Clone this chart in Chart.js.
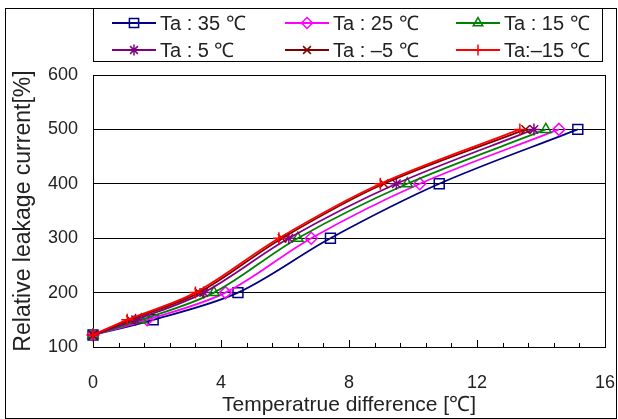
<!DOCTYPE html>
<html><head><meta charset="utf-8">
<script src="https://cdn.jsdelivr.net/npm/chart.js@4/dist/chart.umd.min.js"></script>
<style>html,body{margin:0;padding:0;background:#fff}canvas{display:block}</style>
</head><body>
<canvas id="c" width="618" height="419"></canvas>
<script>
// ---- data ----
const seriesLabels = ['Ta : 35 ℃', 'Ta : 25 ℃', 'Ta : 15 ℃', 'Ta : 5 ℃', 'Ta : –5 ℃', 'Ta:–15 ℃'];
const leakageLevels = [122, 150, 200, 300, 400, 500];
const tdTa35  = [0, 1.88, 4.53, 7.42, 10.82, 15.15];
const tdTa25  = [0, 1.69, 4.14, 6.82, 10.21, 14.56];
const tdTa15  = [0, 1.51, 3.78, 6.40, 9.82, 14.15];
const tdTa5   = [0, 1.33, 3.46, 6.12, 9.48, 13.78];
const tdTaM5  = [0, 1.17, 3.31, 5.91, 9.09, 13.52];
const tdTaM15 = [0, 1.07, 3.20, 5.81, 8.98, 13.34];
const xTickValues = [0, 4, 8, 12, 16];
const yTickValues = [100, 200, 300, 400, 500, 600];

// ---- styles ----
const seriesX = [tdTa35, tdTa25, tdTa15, tdTa5, tdTaM5, tdTaM15];
const colors = ['#000080', '#FF00FF', '#008000', '#800080', '#800000', '#FF0000'];
const markers = ['rect', 'rectRot', 'triangle', 'star', 'crossRot', 'cross'];
const radii = [7, 6, 6, 6, 6, 6];
const FONT = '"Liberation Sans", Arial, sans-serif';

const datasets = seriesX.map((xs, i) => ({
  label: seriesLabels[i],
  data: xs.map((x, j) => ({x: x, y: leakageLevels[j]})),
  borderColor: colors[i],
  backgroundColor: 'rgba(0,0,0,0)',
  borderWidth: 1.8,
  pointStyle: markers[i],
  pointRadius: radii[i],
  pointBorderWidth: 1.5,
  pointBorderColor: colors[i],
  pointBackgroundColor: 'rgba(0,0,0,0)',
  tension: 0.33,
  clip: false,
  order: 5 - i
}));

const framePlugin = {
  id: 'frame',
  afterDraw(chart) {
    const ctx = chart.ctx;
    ctx.save();
    ctx.strokeStyle = '#000';
    ctx.lineWidth = 1;
    // outer frame
    ctx.strokeRect(5.5, 8.5, 611, 410);
    // plot right border
    const xs = chart.scales.x, ys = chart.scales.y;
    const r = Math.round(xs.getPixelForValue(16)) + 0.5;
    ctx.beginPath();
    ctx.moveTo(r, Math.round(ys.getPixelForValue(600)));
    ctx.lineTo(r, Math.round(ys.getPixelForValue(100)) + 1);
    ctx.stroke();
    // x ticks inside the plot (minor every 0.8, major every 4)
    const yb = Math.round(ys.getPixelForValue(100));
    for (let k = 0; k <= 20; k++) {
      const v = k * 0.8;
      const px = Math.round(xs.getPixelForValue(v)) + 0.5;
      const len = (k % 5 === 0) ? 7 : 4;
      ctx.beginPath();
      ctx.moveTo(px, yb);
      ctx.lineTo(px, yb - len);
      ctx.stroke();
    }
    // legend box
    ctx.fillStyle = '#fff';
    ctx.fillRect(93.5, 8.5, 509, 53);
    ctx.strokeRect(93.5, 8.5, 509, 53);
    const cols = [112, 285, 456], rows = [23, 50];
    chart.data.datasets.forEach((ds, i) => {
      const x = cols[i % 3], y = rows[Math.floor(i / 3)];
      ctx.strokeStyle = ds.borderColor;
      ctx.lineWidth = 2;
      ctx.beginPath();
      ctx.moveTo(x, y); ctx.lineTo(x + 44, y);
      ctx.stroke();
      ctx.fillStyle = 'rgba(0,0,0,0)';
      ctx.lineWidth = 1.5;
      Chart.helpers.drawPoint(ctx, {pointStyle: ds.pointStyle, radius: ds.pointRadius - 0.5, borderWidth: 1.5}, x + 22, y);
      ctx.fillStyle = '#222';
      ctx.font = '20px ' + FONT;
      ctx.textBaseline = 'middle';
      ctx.textAlign = 'left';
      ctx.fillText(ds.label, x + 48, y + 1);
    });
    ctx.restore();
  }
};

new Chart(document.getElementById('c'), {
  type: 'line',
  data: {datasets: datasets},
  options: {
    responsive: false,
    animation: false,
    layout: {padding: {top: 75, right: 13, left: 0, bottom: 0}},
    plugins: {legend: {display: false}, tooltip: {enabled: false}},
    scales: {
      x: {
        type: 'linear', min: 0, max: 16,
        afterFit(s) { s.height = 72; s.paddingLeft = 0; s.paddingRight = 0; },
        afterBuildTicks(s) { s.ticks = xTickValues.map(v => ({value: v})); },
        grid: {display: false, drawTicks: false},
        border: {display: true, color: '#000', width: 1},
        ticks: {padding: 25, color: '#222', font: {family: FONT, size: 18}, maxRotation: 0},
        title: {display: true, text: 'Temperatrue difference [℃]', color: '#222',
                font: {family: FONT, size: 21}, padding: {top: 0, bottom: 1}}
      },
      y: {
        type: 'linear', min: 100, max: 600,
        afterFit(s) { s.width = 93; s.paddingTop = 0; s.paddingBottom = 0; },
        afterBuildTicks(s) { s.ticks = yTickValues.map(v => ({value: v})); },
        grid: {color: '#000', lineWidth: 1, drawTicks: false},
        border: {display: true, color: '#000', width: 1},
        ticks: {padding: 15, color: '#222', font: {family: FONT, size: 18}},
        title: {display: true, text: 'Relative leakage current[%]', color: '#222',
                font: {family: FONT, size: 23}, padding: {top: 10, bottom: 0}}
      }
    }
  },
  plugins: [framePlugin]
});
</script>
</body></html>
